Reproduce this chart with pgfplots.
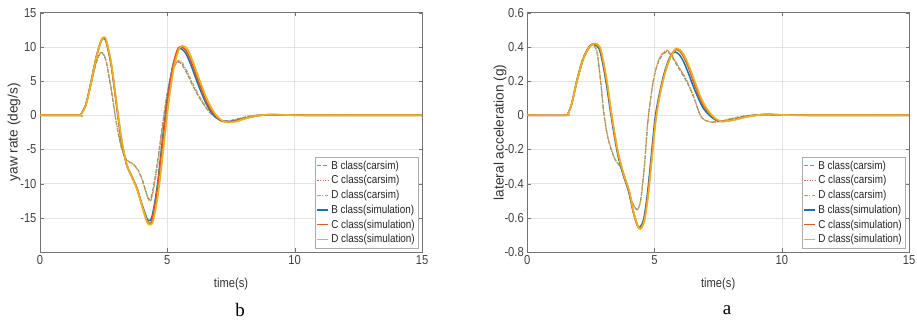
\documentclass[border=0pt]{standalone}
\usepackage{pgfplots}
\pgfplotsset{compat=1.18}
\usepackage{fontspec}
\setmainfont[FakeStretch=0.86]{Liberation Sans}
\newfontfamily\widesans{Liberation Sans}
\newfontfamily\serifnum{Liberation Serif}
\definecolor{bsim}{RGB}{20,115,180}
\definecolor{csim}{RGB}{220,90,35}
\definecolor{dsim}{RGB}{237,177,32}
\definecolor{bcar}{RGB}{90,165,195}
\definecolor{ccar}{RGB}{215,105,70}
\definecolor{dcar}{RGB}{195,165,75}
\pgfplotsset{
  mystyle/.style={
    scale only axis, anchor=south west,
    xmin=0, xmax=15, xtick={0,5,10,15}, xticklabels={0,5,10,15},
    grid=major, major grid style={gray!22, line width=0.5pt},
    axis line style={black!55, line width=0.6pt},
    tick align=inside, major tick length=3.5pt, tick style={black!55},
    tick label style={font=\fontsize{13}{14}\selectfont, text=black!75},
    x label style={font=\fontsize{13}{14}\selectfont, text=black!80},
    y label style={font=\widesans\fontsize{13.7}{14}\selectfont, text=black!80},
    xlabel={time(s)},
    x label style={at={(axis description cs:0.5,-0.134)}, anchor=center},
    legend style={fill=white, draw=gray!65, font=\fontsize{11.5}{12.5}\selectfont,
      text=black!85, inner xsep=1pt, inner ysep=1.5pt, row sep=0.9pt,
      at={(rel axis cs:0.9895,0.0167)}, anchor=south east},
    legend cell align=left,
    legend image code/.code={\draw[#1] (0pt,0pt) -- (11pt,0pt);},
    every axis plot/.append style={smooth, tension=0.5},
    clip=true,
  },
  carB/.style={bcar, line width=1.1pt, dash pattern=on 3.5pt off 2.5pt},
  carC/.style={ccar, line width=1.1pt, dash pattern=on 1.2pt off 1.4pt},
  carD/.style={dcar, line width=1.1pt, dash pattern=on 3.5pt off 1.5pt on 1pt off 1.5pt},
  simB/.style={bsim, line width=1.5pt},
  simC/.style={csim, line width=1.6pt},
  simD/.style={dsim, line width=1.7pt},
}
\begin{document}
\begin{tikzpicture}
\path[use as bounding box] (0pt,0pt) rectangle (917pt,326pt);
% ---------------- yaw rate ----------------
\begin{axis}[mystyle, at={(40pt,74pt)}, width=382pt, height=239.3pt,
  ymin=-20, ymax=15, ytick={-20,-15,-10,-5,0,5,10,15},
  yticklabels={,-15,-10,-5,0,5,10,15},
  ylabel={yaw rate (deg/s)},
  y label style={at={(axis description cs:-0.068,0.5)}, anchor=center}]
\addplot[carB] coordinates {(0,0)(1.5,0)(1.6,0.1)(1.8,1.5)(2.0,4.5)(2.2,7.6)(2.35,9.0)(2.45,9.1)(2.6,7.8)(2.8,3.6)(3.0,-1.2)(3.2,-4.8)(3.4,-6.5)(3.6,-7.0)(3.8,-7.7)(4.0,-9.2)(4.15,-11.0)(4.28,-12.3)(4.4,-11.5)(4.6,-7.2)(4.8,-1.6)(5.0,3.3)(5.2,6.5)(5.4,7.7)(5.55,7.5)(5.8,5.9)(6.0,4.3)(6.3,2.3)(6.6,0.7)(6.9,-0.35)(7.2,-0.8)(7.5,-0.75)(7.8,-0.5)(8.2,-0.15)(8.6,0.03)(9.2,0.04)(10,0)(15,0)};
\addlegendentry{B class(carsim)}
\addplot[carC] coordinates {(0,0)(1.5,0)(1.6,0.1)(1.8,1.5)(2.0,4.5)(2.2,7.6)(2.35,9.0)(2.45,9.15)(2.6,7.9)(2.8,3.7)(3.0,-1.1)(3.2,-4.7)(3.4,-6.5)(3.6,-7.0)(3.8,-7.7)(4.0,-9.3)(4.15,-11.1)(4.28,-12.4)(4.4,-11.6)(4.6,-7.3)(4.8,-1.7)(5.0,3.3)(5.2,6.6)(5.4,7.8)(5.55,7.6)(5.8,6.0)(6.0,4.4)(6.3,2.35)(6.6,0.7)(6.9,-0.35)(7.2,-0.8)(7.5,-0.75)(7.8,-0.5)(8.2,-0.15)(8.6,0.03)(9.2,0.04)(10,0)(15,0)};
\addlegendentry{C class(carsim)}
\addplot[carD] coordinates {(0,0)(1.5,0)(1.6,0.1)(1.8,1.5)(2.0,4.5)(2.2,7.6)(2.35,9.0)(2.45,9.2)(2.6,8.0)(2.8,3.8)(3.0,-1.0)(3.2,-4.7)(3.4,-6.6)(3.6,-7.0)(3.8,-7.8)(4.0,-9.4)(4.15,-11.2)(4.3,-12.6)(4.42,-11.7)(4.62,-7.3)(4.82,-1.7)(5.02,3.3)(5.22,6.7)(5.42,8.0)(5.57,7.8)(5.82,6.1)(6.02,4.5)(6.32,2.4)(6.62,0.75)(6.92,-0.35)(7.22,-0.85)(7.52,-0.8)(7.82,-0.52)(8.2,-0.15)(8.6,0.03)(9.2,0.04)(10,0)(15,0)};
\addlegendentry{D class(carsim)}
\addplot[simB] coordinates {(0,0)(1.5,0)(1.6,0.1)(1.8,1.6)(2.0,4.8)(2.2,8.4)(2.4,10.9)(2.5,11.2)(2.6,10.7)(2.8,7.2)(3.0,1.6)(3.2,-3.8)(3.4,-7.2)(3.6,-8.9)(3.8,-10.6)(4.0,-13.0)(4.2,-15.1)(4.28,-15.4)(4.4,-14.8)(4.6,-10.5)(4.8,-3.9)(5.0,2.4)(5.2,7.0)(5.4,9.5)(5.5,9.8)(5.7,9.2)(5.9,7.6)(6.2,4.6)(6.5,1.9)(6.8,0.1)(7.1,-0.8)(7.3,-0.95)(7.6,-0.85)(8.0,-0.5)(8.4,-0.15)(8.8,0.05)(9.2,0.08)(9.8,0.02)(10.5,0)(15,0)};
\addlegendentry{B class(simulation)}
\addplot[simC] coordinates {(0,0)(1.5,0)(1.6,0.1)(1.8,1.55)(2.0,4.7)(2.2,8.35)(2.4,10.9)(2.5,11.3)(2.6,10.9)(2.8,7.4)(3.0,1.8)(3.2,-3.6)(3.4,-7.2)(3.6,-8.95)(3.8,-10.6)(4.0,-13.1)(4.2,-15.4)(4.3,-15.8)(4.4,-15.3)(4.6,-11.0)(4.8,-4.5)(5.0,2.0)(5.2,6.8)(5.4,9.6)(5.55,10.0)(5.75,9.4)(5.95,7.7)(6.25,4.7)(6.55,1.9)(6.85,0.1)(7.15,-0.85)(7.35,-1.0)(7.65,-0.88)(8.0,-0.52)(8.4,-0.15)(8.8,0.05)(9.2,0.09)(9.8,0.02)(10.5,0)(15,0)};
\addlegendentry{C class(simulation)}
\addplot[simD] coordinates {(0,0)(1.5,0)(1.6,0.1)(1.8,1.5)(2.0,4.6)(2.2,8.3)(2.4,10.9)(2.5,11.4)(2.6,11.0)(2.8,7.6)(3.0,2.0)(3.2,-3.4)(3.4,-7.1)(3.6,-9.0)(3.8,-10.7)(4.0,-13.2)(4.2,-15.6)(4.32,-16.0)(4.45,-15.4)(4.65,-11.2)(4.85,-4.8)(5.05,1.8)(5.25,6.8)(5.45,9.6)(5.6,10.15)(5.8,9.6)(6.0,7.9)(6.3,4.8)(6.6,2.0)(6.9,0.1)(7.2,-0.9)(7.4,-1.05)(7.7,-0.92)(8.0,-0.55)(8.4,-0.15)(8.8,0.05)(9.2,0.1)(9.8,0.03)(10.5,0)(15,0)};
\addlegendentry{D class(simulation)}
\end{axis}
% ---------------- lateral acceleration ----------------
\begin{axis}[mystyle, at={(527.3pt,74pt)}, width=381.7pt, height=239.3pt,
  ymin=-0.8, ymax=0.6, ytick={-0.8,-0.6,-0.4,-0.2,0,0.2,0.4,0.6},
  yticklabels={-0.8,-0.6,-0.4,-0.2,0,0.2,0.4,0.6},
  ylabel={lateral acceleration (g)},
  y label style={at={(axis description cs:-0.0716,0.5)}, anchor=center}]
\addplot[carB] coordinates {(0,0)(1.5,0)(1.6,0.01)(1.75,0.07)(1.95,0.21)(2.2,0.34)(2.45,0.405)(2.6,0.41)(2.75,0.36)(2.9,0.17)(3.0,0.02)(3.15,-0.12)(3.3,-0.2)(3.45,-0.26)(3.65,-0.3)(3.8,-0.35)(3.95,-0.42)(4.1,-0.5)(4.3,-0.55)(4.45,-0.5)(4.6,-0.3)(4.75,-0.02)(4.95,0.2)(5.15,0.31)(5.35,0.36)(5.5,0.37)(5.65,0.35)(5.85,0.3)(6.05,0.25)(6.25,0.2)(6.5,0.12)(6.8,0.0)(7.0,-0.03)(7.25,-0.04)(7.6,-0.035)(8.0,-0.02)(8.4,-0.008)(8.8,0.0)(9.3,0.003)(10,0)(15,0)};
\addlegendentry{B class(carsim)}
\addplot[carC] coordinates {(0,0)(1.5,0)(1.6,0.01)(1.75,0.07)(1.95,0.21)(2.2,0.34)(2.45,0.405)(2.6,0.412)(2.75,0.362)(2.9,0.172)(3.0,0.022)(3.15,-0.12)(3.3,-0.2)(3.45,-0.26)(3.65,-0.3)(3.8,-0.35)(3.95,-0.42)(4.1,-0.5)(4.3,-0.552)(4.45,-0.502)(4.6,-0.3)(4.75,-0.02)(4.95,0.2)(5.15,0.315)(5.35,0.365)(5.5,0.375)(5.65,0.355)(5.85,0.305)(6.05,0.255)(6.25,0.205)(6.5,0.12)(6.8,0.0)(7.0,-0.03)(7.25,-0.04)(7.6,-0.035)(8.0,-0.02)(8.4,-0.008)(8.8,0.0)(9.3,0.003)(10,0)(15,0)};
\addlegendentry{C class(carsim)}
\addplot[carD] coordinates {(0,0)(1.5,0)(1.6,0.01)(1.75,0.07)(1.95,0.21)(2.2,0.34)(2.45,0.405)(2.6,0.414)(2.75,0.365)(2.9,0.175)(3.0,0.025)(3.15,-0.12)(3.3,-0.2)(3.45,-0.26)(3.65,-0.3)(3.8,-0.35)(3.95,-0.42)(4.1,-0.5)(4.3,-0.555)(4.45,-0.505)(4.6,-0.3)(4.75,-0.02)(4.95,0.2)(5.15,0.32)(5.35,0.37)(5.5,0.38)(5.65,0.36)(5.85,0.31)(6.05,0.26)(6.25,0.21)(6.5,0.125)(6.8,0.0)(7.0,-0.03)(7.25,-0.04)(7.6,-0.035)(8.0,-0.02)(8.4,-0.008)(8.8,0.0)(9.3,0.003)(10,0)(15,0)};
\addlegendentry{D class(carsim)}
\addplot[simB] coordinates {(0,0)(1.5,0)(1.6,0.01)(1.75,0.07)(1.95,0.2)(2.2,0.33)(2.45,0.405)(2.63,0.415)(2.82,0.39)(2.97,0.3)(3.12,0.17)(3.27,0.02)(3.42,-0.12)(3.57,-0.24)(3.77,-0.35)(3.97,-0.44)(4.17,-0.57)(4.32,-0.64)(4.42,-0.655)(4.57,-0.61)(4.72,-0.46)(4.87,-0.24)(5.02,-0.02)(5.17,0.11)(5.37,0.24)(5.57,0.33)(5.72,0.365)(5.82,0.37)(5.97,0.355)(6.12,0.32)(6.32,0.25)(6.52,0.17)(6.72,0.1)(6.92,0.04)(7.12,0.005)(7.32,-0.02)(7.52,-0.035)(7.72,-0.035)(8.12,-0.025)(8.52,-0.01)(8.95,0)(9.4,0.005)(10,0.002)(11,0)(15,0)};
\addlegendentry{B class(simulation)}
\addplot[simC] coordinates {(0,0)(1.5,0)(1.6,0.01)(1.75,0.07)(1.95,0.2)(2.2,0.33)(2.45,0.4)(2.64,0.418)(2.84,0.395)(2.99,0.305)(3.14,0.175)(3.29,0.02)(3.44,-0.12)(3.59,-0.24)(3.79,-0.35)(3.99,-0.44)(4.19,-0.58)(4.34,-0.65)(4.44,-0.66)(4.59,-0.615)(4.74,-0.465)(4.89,-0.245)(5.04,-0.025)(5.19,0.11)(5.39,0.24)(5.59,0.33)(5.78,0.38)(5.87,0.385)(6.02,0.37)(6.17,0.335)(6.37,0.265)(6.57,0.18)(6.77,0.105)(6.97,0.045)(7.17,0.008)(7.37,-0.02)(7.57,-0.035)(7.77,-0.035)(8.17,-0.025)(8.57,-0.01)(9.0,0)(9.4,0.005)(10,0.002)(11,0)(15,0)};
\addlegendentry{C class(simulation)}
\addplot[simD] coordinates {(0,0)(1.5,0)(1.6,0.01)(1.75,0.07)(1.95,0.2)(2.2,0.33)(2.45,0.4)(2.65,0.42)(2.85,0.4)(3.0,0.31)(3.15,0.18)(3.3,0.02)(3.45,-0.12)(3.6,-0.24)(3.8,-0.35)(4.0,-0.44)(4.2,-0.58)(4.35,-0.65)(4.45,-0.665)(4.6,-0.62)(4.75,-0.47)(4.9,-0.25)(5.05,-0.03)(5.2,0.11)(5.4,0.24)(5.6,0.33)(5.8,0.385)(5.9,0.39)(6.05,0.375)(6.2,0.34)(6.4,0.27)(6.6,0.19)(6.8,0.11)(7.0,0.05)(7.2,0.01)(7.4,-0.02)(7.6,-0.035)(7.8,-0.035)(8.2,-0.025)(8.6,-0.01)(9.0,0.0)(9.4,0.005)(10,0.002)(11,0)(15,0)};
\addlegendentry{D class(simulation)}
\end{axis}
\node[font=\serifnum\fontsize{19}{20}\selectfont] at (240pt,16pt) {b};
\node[font=\serifnum\fontsize{19}{20}\selectfont] at (727pt,16pt) {a};
\end{tikzpicture}
\end{document}
